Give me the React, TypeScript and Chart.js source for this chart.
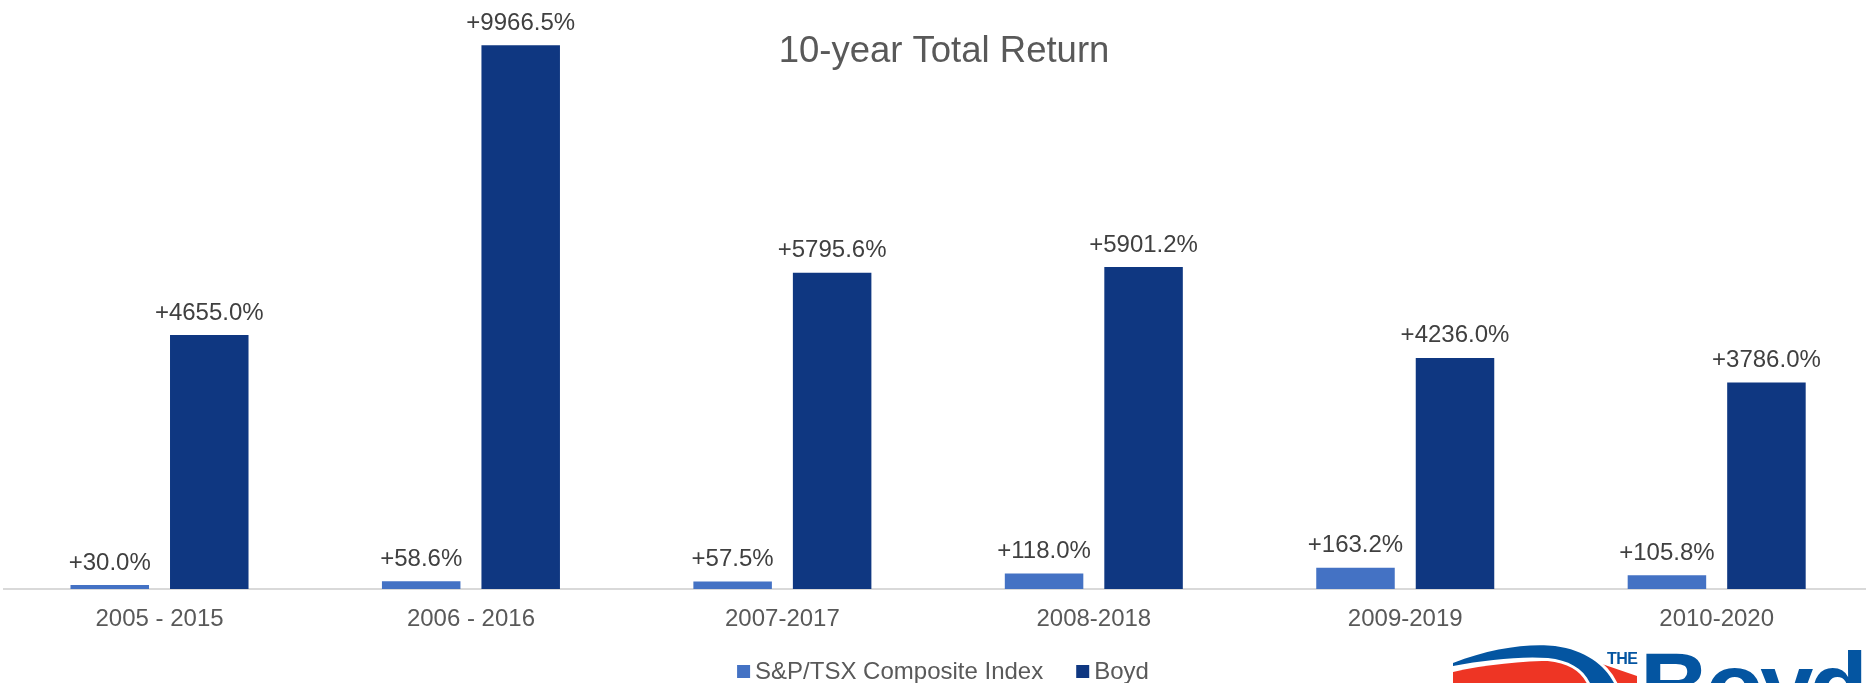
import { useEffect, useRef } from 'react';
import { Chart, registerables } from 'chart.js';

Chart.register(...registerables);

const categories = ['2005 - 2015', '2006 - 2016', '2007-2017', '2008-2018', '2009-2019', '2010-2020'];
const spTsxReturns = [30.0, 58.6, 57.5, 118.0, 163.2, 105.8];
const boydReturns = [4655.0, 9966.5, 5795.6, 5901.2, 4236.0, 3786.0];
const seriesNames = ['S&P/TSX Composite Index', 'Boyd'];
const seriesColors = ['#4472C4', '#0F3781'];
const chartTitle = '10-year Total Return';
const primaryMax = 10000;
const secondaryMax = 4170;

const FONT = '"Liberation Sans", Arial, sans-serif';

export default function App() {
  const ref = useRef<HTMLCanvasElement>(null);

  useEffect(() => {
    const canvas = ref.current;
    if (!canvas) return;

    const overlay = {
      id: 'overlay',
      afterDatasetsDraw(chart: any) {
        const ctx = chart.ctx;
        ctx.save();
        ctx.font = `24px ${FONT}`;
        ctx.fillStyle = '#404040';
        ctx.textAlign = 'center';
        ctx.textBaseline = 'alphabetic';
        chart.data.datasets.forEach((ds: any, i: number) => {
          const meta = chart.getDatasetMeta(i);
          meta.data.forEach((el: any, j: number) => {
            const v = ds.data[j] as number;
            ctx.fillText(`+${v.toFixed(1)}%`, el.x, el.y - 15.5);
          });
        });
        ctx.restore();
      },
      afterDraw(chart: any) {
        const ctx = chart.ctx;
        const cx = chart.width / 2;
        ctx.save();
        // title
        ctx.font = `36.5px ${FONT}`;
        ctx.fillStyle = '#595959';
        ctx.textAlign = 'center';
        ctx.textBaseline = 'alphabetic';
        ctx.fillText(chartTitle, cx + 1, 61.7);
        // legend
        ctx.font = `24px ${FONT}`;
        ctx.textAlign = 'left';
        const box = 13;
        const gapText = 5;
        const gapItem = 33;
        const widths = seriesNames.map((n) => ctx.measureText(n).width);
        const total = widths.reduce((a, w) => a + box + gapText + w, 0) + gapItem * (seriesNames.length - 1);
        let x = cx - total / 2;
        seriesNames.forEach((n, i) => {
          ctx.fillStyle = seriesColors[i];
          ctx.fillRect(x, 665, box, box);
          ctx.fillStyle = '#595959';
          ctx.fillText(n, x + box + gapText, 679.3);
          x += box + gapText + widths[i] + gapItem;
        });
        ctx.restore();
      },
    };

    const chart = new Chart(canvas, {
      type: 'bar',
      data: {
        labels: categories,
        datasets: [
          {
            label: seriesNames[0],
            data: spTsxReturns,
            backgroundColor: seriesColors[0],
            yAxisID: 'y2',
            categoryPercentage: 0.639,
            barPercentage: 0.789,
          },
          {
            label: seriesNames[1],
            data: boydReturns,
            backgroundColor: seriesColors[1],
            yAxisID: 'y',
            categoryPercentage: 0.639,
            barPercentage: 0.789,
          },
        ],
      },
      options: {
        responsive: false,
        animation: false,
        devicePixelRatio: 1,
        layout: { padding: { left: 3.8, right: 13.6, top: 43.5, bottom: 33.2 } },
        plugins: {
          legend: { display: false },
          title: { display: false },
          tooltip: { enabled: false },
        },
        scales: {
          x: {
            grid: { display: false, drawTicks: false },
            border: { display: true, color: '#D9D9D9', width: 2 },
            ticks: {
              color: '#595959',
              padding: 16,
              font: { family: FONT, size: 24 },
              maxRotation: 0,
              autoSkip: false,
            },
          },
          y: { display: false, min: 0, max: primaryMax },
          y2: { display: false, min: 0, max: secondaryMax, position: 'right' },
        },
      },
      plugins: [overlay],
    });

    return () => chart.destroy();
  }, []);

  const blue = '#0455A1';
  return (
    <div
      style={{
        position: 'fixed',
        left: 0,
        top: 0,
        width: 1866,
        height: 683,
        overflow: 'hidden',
        background: '#ffffff',
      }}
    >
      <canvas ref={ref} width={1886} height={683} style={{ display: 'block', width: 1886, height: 683 }} />
      <svg
        width={1866}
        height={683}
        style={{ position: 'absolute', left: 0, top: 0, pointerEvents: 'none' }}
      >
        <path d="M1453,683 L1453,672 C1490,664 1530,660 1565,661 L1602,664 L1637,676 L1637,683 Z" fill="#EE3524" />
        <path
          d="M1453,663 C1490,648 1530,643 1555,646 C1585,650 1605,665 1614,683 L1590,683 C1583,668 1568,660 1548,658 C1520,656 1485,660 1453,666 Z"
          fill={blue}
          stroke="#ffffff"
          strokeWidth={6}
          paintOrder="stroke"
        />
        <text
          x={1607}
          y={664}
          fill={blue}
          style={{ font: `bold 16px ${FONT}`, letterSpacing: '-0.5px' }}
        >
          THE
        </text>
        <text
          x={1640}
          y={720}
          fill={blue}
          style={{ font: `bold 96px ${FONT}`, letterSpacing: '-4px' }}
        >
          Boyd
        </text>
      </svg>
    </div>
  );
}
